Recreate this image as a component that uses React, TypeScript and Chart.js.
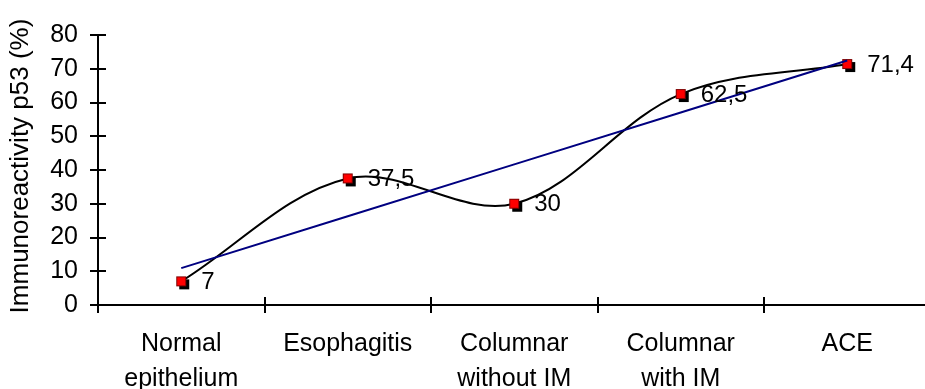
import React, { useEffect, useRef } from 'react';
import { Chart, registerables } from 'chart.js';

Chart.register(...registerables);

const categories: string[][] = [
  ['Normal', 'epithelium'],
  ['Esophagitis'],
  ['Columnar', 'without IM'],
  ['Columnar', 'with IM'],
  ['ACE'],
];
const values: number[] = [7, 37.5, 30, 62.5, 71.4];
const valueLabels: string[] = ['7', '37,5', '30', '62,5', '71,4'];
const yTickValues: number[] = [0, 10, 20, 30, 40, 50, 60, 70, 80];
const yTitle = 'Immunoreactivity p53 (%)';

const FONT = "'Liberation Sans', Arial, sans-serif";

function linearTrend(ys: number[]): number[] {
  const n = ys.length;
  const xs = ys.map((_, i) => i + 1);
  const mx = xs.reduce((a, b) => a + b, 0) / n;
  const my = ys.reduce((a, b) => a + b, 0) / n;
  let num = 0;
  let den = 0;
  for (let i = 0; i < n; i++) {
    num += (xs[i] - mx) * (ys[i] - my);
    den += (xs[i] - mx) * (xs[i] - mx);
  }
  const slope = num / den;
  const icpt = my - slope * mx;
  return xs.map((x) => icpt + slope * x);
}

function makeMarker(): HTMLCanvasElement {
  const c = document.createElement('canvas');
  c.width = 18;
  c.height = 18;
  const g = c.getContext('2d')!;
  g.fillStyle = '#000000';
  g.fillRect(7, 7, 10, 10);
  g.fillStyle = '#ff0000';
  g.fillRect(4, 4, 10, 10);
  g.strokeStyle = '#800000';
  g.lineWidth = 1;
  g.strokeRect(4.5, 4.5, 9, 9);
  return c;
}

const tickMarksPlugin = {
  id: 'tickMarks',
  afterDraw(chart: any) {
    const ctx = chart.ctx;
    const xs = chart.scales.x;
    const ys = chart.scales.y;
    ctx.save();
    ctx.strokeStyle = '#000';
    ctx.lineWidth = 2;
    const ax = chart.chartArea.left;
    yTickValues.forEach((v) => {
      const py = Math.round(ys.getPixelForValue(v));
      ctx.beginPath();
      ctx.moveTo(ax - 8, py);
      ctx.lineTo(ax + 8, py);
      ctx.stroke();
    });
    const by = chart.chartArea.bottom;
    for (let i = 0; i <= categories.length; i++) {
      const px = Math.round(xs.getPixelForValue(i - 0.5));
      ctx.beginPath();
      ctx.moveTo(px, by - 8);
      ctx.lineTo(px, by + 8);
      ctx.stroke();
    }
    // y axis title
    ctx.translate(21, (chart.chartArea.top + chart.chartArea.bottom) / 2 - 4);
    ctx.rotate(-Math.PI / 2);
    ctx.font = `26px ${FONT}`;
    ctx.fillStyle = '#000';
    ctx.textAlign = 'center';
    ctx.textBaseline = 'middle';
    ctx.fillText(yTitle, 0, 0);
    ctx.restore();
  },
};

const valueLabelPlugin = {
  id: 'valueLabels',
  afterDatasetsDraw(chart: any) {
    const meta = chart.getDatasetMeta(1);
    const ctx = chart.ctx;
    ctx.save();
    ctx.font = `24px ${FONT}`;
    ctx.fillStyle = '#000';
    ctx.textAlign = 'left';
    ctx.textBaseline = 'middle';
    meta.data.forEach((pt: any, i: number) => {
      ctx.fillText(valueLabels[i], pt.x + 20, pt.y + 1);
    });
    ctx.restore();
  },
};

export default function App() {
  const ref = useRef<HTMLCanvasElement | null>(null);

  useEffect(() => {
    if (!ref.current) return;
    Chart.defaults.color = '#000';
    const marker = makeMarker();
    const trend = linearTrend(values);
    const chart = new Chart(ref.current, {
      type: 'line',
      data: {
        labels: categories,
        datasets: [
          {
            label: 'trend',
            data: trend,
            borderColor: '#000080',
            borderWidth: 2,
            pointRadius: 0,
            tension: 0,
            order: 0,
          },
          {
            label: 'markers',
            data: values,
            showLine: false,
            pointStyle: marker as any,
            pointRadius: 5,
            order: 1,
          },
          {
            label: 'p53',
            data: values,
            borderColor: '#000000',
            borderWidth: 2,
            pointRadius: 0,
            tension: 0.35,
            order: 2,
          },
        ],
      },
      options: {
        responsive: false,
        animation: false,
        devicePixelRatio: 1,
        layout: { padding: { top: 25, right: 9.5, bottom: 0, left: 0 } },
        plugins: { legend: { display: false }, tooltip: { enabled: false } },
        scales: {
          x: {
            type: 'category',
            offset: true,
            grid: { display: false, drawTicks: false, tickLength: 0 },
            border: { display: true, color: '#000', width: 2 },
            ticks: {
              color: '#000',
              padding: 22,
              maxRotation: 0,
              autoSkip: false,
              font: { family: FONT, size: 25, lineHeight: 1.4 },
            },
            afterFit: (s: any) => {
              s.height = 95;
            },
          },
          y: {
            min: 0,
            max: 80,
            grid: { display: false, drawTicks: false, tickLength: 0 },
            border: { display: true, color: '#000', width: 2 },
            ticks: {
              stepSize: 10,
              color: '#000',
              padding: 20,
              font: { family: FONT, size: 25 },
            },
            title: { display: false, text: yTitle },
            afterFit: (s: any) => {
              s.width = 98;
            },
          },
        },
      },
      plugins: [tickMarksPlugin, valueLabelPlugin],
    });
    return () => chart.destroy();
  }, []);

  return (
    <div
      style={{
        position: 'fixed',
        left: 0,
        top: 0,
        width: 925,
        height: 389,
        overflow: 'hidden',
        background: '#fff',
      }}
    >
      <canvas ref={ref} width={940} height={400} style={{ display: 'block', width: 940, height: 400 }} />
    </div>
  );
}
